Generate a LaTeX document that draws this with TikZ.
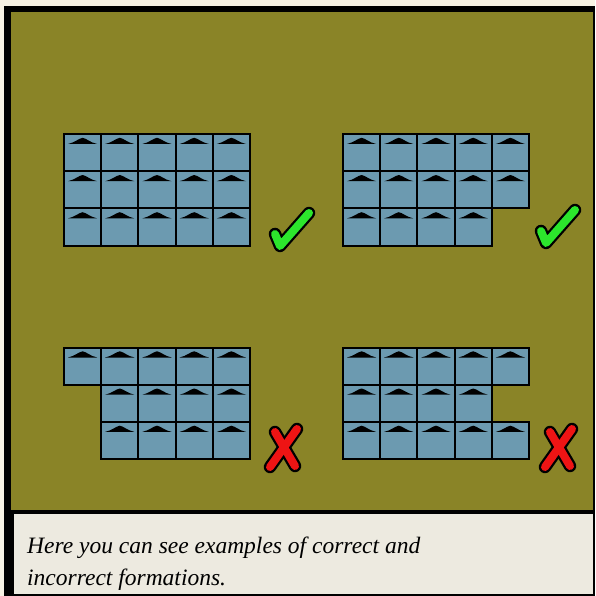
\documentclass[tikz,border=0pt]{standalone}
\usepackage{fontspec}
\setmainfont{Liberation Serif}
\definecolor{cream}{HTML}{F8F2E4}
\definecolor{olive}{HTML}{8A8427}
\definecolor{capbg}{HTML}{EDEAE0}
\definecolor{tileblue}{HTML}{6C9AB0}
\definecolor{okgreen}{HTML}{2CE62C}
\definecolor{badred}{HTML}{EE1414}
\tikzset{
  tile/.pic={
    \fill[tileblue] (0,0) rectangle (37.2,37.2);
    \fill[black] (4,10) .. controls (11,8.5) and (14.5,4.5) .. (18.6,3.8) .. controls (22.7,4.5) and (26,8.5) .. (33.2,10) -- cycle;
    \draw[black,line width=2pt] (0,0) rectangle (37.2,37.2);
  },
  markout/.style={line width=12.5pt,black,line cap=round,line join=round},
  markin/.style={line width=8pt,line cap=round,line join=round},
}
\begin{document}
\begin{tikzpicture}[x=1pt,y=-1pt]
\useasboundingbox (0,0) rectangle (595,596);
\fill[cream] (0,0) rectangle (595,596);
\fill[black] (4,6) rectangle (595,596);
\fill[olive] (11,12) rectangle (593,510);
\node[draw=black,line width=1.5pt,fill=capbg,minimum width=580pt,minimum height=81pt,anchor=north west,inner sep=0pt] (capbox) at (12.5,512.5) {};
\node[anchor=base west,inner sep=0pt,align=left,font=\fontsize{23.5}{32}\selectfont\itshape] (caption) at (27,585) {Here you can see examples of correct and\\incorrect formations.};
% top-left: full 5x3
\foreach \r in {0,1,2}{\foreach \c in {0,...,4}{\pic at ({64+37.2*\c},{134+37.2*\r}) {tile};}}
% top-right: 5,5,4
\foreach \r in {0,1}{\foreach \c in {0,...,4}{\pic at ({343+37.2*\c},{134+37.2*\r}) {tile};}}
\foreach \c in {0,...,3}{\pic at ({343+37.2*\c},{134+37.2*2}) {tile};}
% bottom-left: 5, then offset 4,4
\foreach \c in {0,...,4}{\pic at ({64+37.2*\c},{347.5}) {tile};}
\foreach \r in {1,2}{\foreach \c in {1,...,4}{\pic at ({64+37.2*\c},{347.5+37.2*\r}) {tile};}}
% bottom-right: 5,4,5
\foreach \r in {0,2}{\foreach \c in {0,...,4}{\pic at ({343+37.2*\c},{347.5+37.2*\r}) {tile};}}
\foreach \c in {0,...,3}{\pic at ({343+37.2*\c},{347.5+37.2}) {tile};}
% check marks
\foreach \dx/\dy/\nm in {0/0/checkA,266/-3/checkB}{
  \begin{scope}[shift={(\dx,\dy)}]
    \coordinate (\nm) at (275,234);
    \draw[markout] (275,234) -- (280,246) -- (309,213);
    \draw[markin,okgreen] (275,234) -- (280,246) -- (309,213);
  \end{scope}
}
% crosses
\foreach \dx/\nm in {0/crossA,275/crossB}{
  \begin{scope}[shift={(\dx,0)}]
    \coordinate (\nm) at (284,449);
    \draw[markout] (275,432) -- (295,466);
    \draw[markout] (297,429) -- (270,467);
    \draw[markin,badred] (275,432) -- (295,466);
    \draw[markin,badred] (297,429) -- (270,467);
  \end{scope}
}
\end{tikzpicture}
\end{document}
